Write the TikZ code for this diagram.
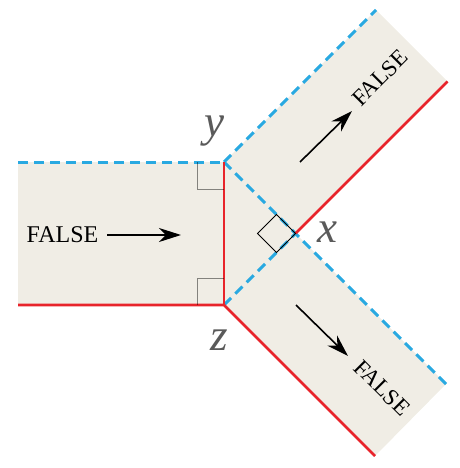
\documentclass[tikz,border=0pt]{standalone}
\usepackage{fontspec}
\setmainfont{Liberation Serif}
\usetikzlibrary{arrows.meta}
\definecolor{bandfill}{HTML}{F0EDE5}
\definecolor{edgeblue}{HTML}{29A9E1}
\definecolor{edgered}{HTML}{E8242B}
\definecolor{labelgray}{HTML}{5A5A5A}
\begin{document}
\begin{tikzpicture}[x=1pt, y=-1pt,
        dashedge/.style={edgeblue, line width=3pt, dash pattern=on 10pt off 6pt},
        rededge/.style={edgered, line width=2.8pt},
        flow/.style={-{Stealth[length=22pt,width=14pt,inset=7pt]}, line width=1.6pt},
        rightmark/.style={line width=0.9pt},
        ptlabel/.style={labelgray, font=\fontsize{45}{45}\selectfont\itshape, anchor=base, inner sep=0pt},
        falselabel/.style={font=\fontsize{23}{23}\selectfont, inner sep=0pt}]
        \useasboundingbox (0,0) rectangle (459,468);
        % Corner points
        \coordinate (y) at (224,162);
        \coordinate (z) at (224,305);
        \coordinate (x) at (295.5,233.5);
        \coordinate (lt) at (18,162);
        \coordinate (lb) at (18,305);
        \coordinate (ut) at (376,10);
        \coordinate (ub) at (447.5,81.5);
        \coordinate (dt) at (446,384);
        \coordinate (db) at (375,456);
        % Bands
        \fill[bandfill] (lt) -- (y) -- (ut) -- (ub) -- (x) -- (dt) -- (db) -- (z) -- (lb) -- cycle;
        % Dashed edges
        \draw[dashedge] (lt) -- (y);
        \draw[dashedge] (y) -- (ut);
        \draw[dashedge] (y) -- (dt);
        \draw[dashedge] (z) -- (x);
        % Red edges
        \draw[rededge] (lb) -- (z) -- (db);
        \draw[rededge] (y) -- (z);
        \draw[rededge] (x) -- (ub);
        % Right angle marks
        \draw[rightmark, black, draw opacity=0.45] (y) ++(-27,0) -- ++(0,27) -- ++(27,0);
        \draw[rightmark, black, draw opacity=0.45] (z) ++(-27,0) -- ++(0,-27) -- ++(27,0);
        \draw[rightmark, black] (x) -- ++(-19,-19) -- ++(-19,19) -- ++(19,19) -- cycle;
        % Labels
        \node[ptlabel] (ylab) at (214,136) {y};
        \node[ptlabel] (zlab) at (219,350) {z};
        \node[ptlabel] (xlab) at (327,242) {x};
        \node[falselabel, font=\fontsize{24}{24}\selectfont] (fleft) at (62.5,235) {FALSE};
        \node[falselabel, rotate=45] (fup) at (380,78) {FALSE};
        \node[falselabel, rotate=-45] (fdown) at (382,388) {FALSE};
        % Flow arrows
        \coordinate (a1) at (107,235);
        \coordinate (b1) at (181,235);
        \coordinate (a2) at (300,162);
        \coordinate (b2) at (352,111);
        \coordinate (a3) at (296,305);
        \coordinate (b3) at (348,356);
        \draw[flow] (a1) -- (b1);
        \draw[flow] (a2) -- (b2);
        \draw[flow] (a3) -- (b3);
\end{tikzpicture}
\end{document}
